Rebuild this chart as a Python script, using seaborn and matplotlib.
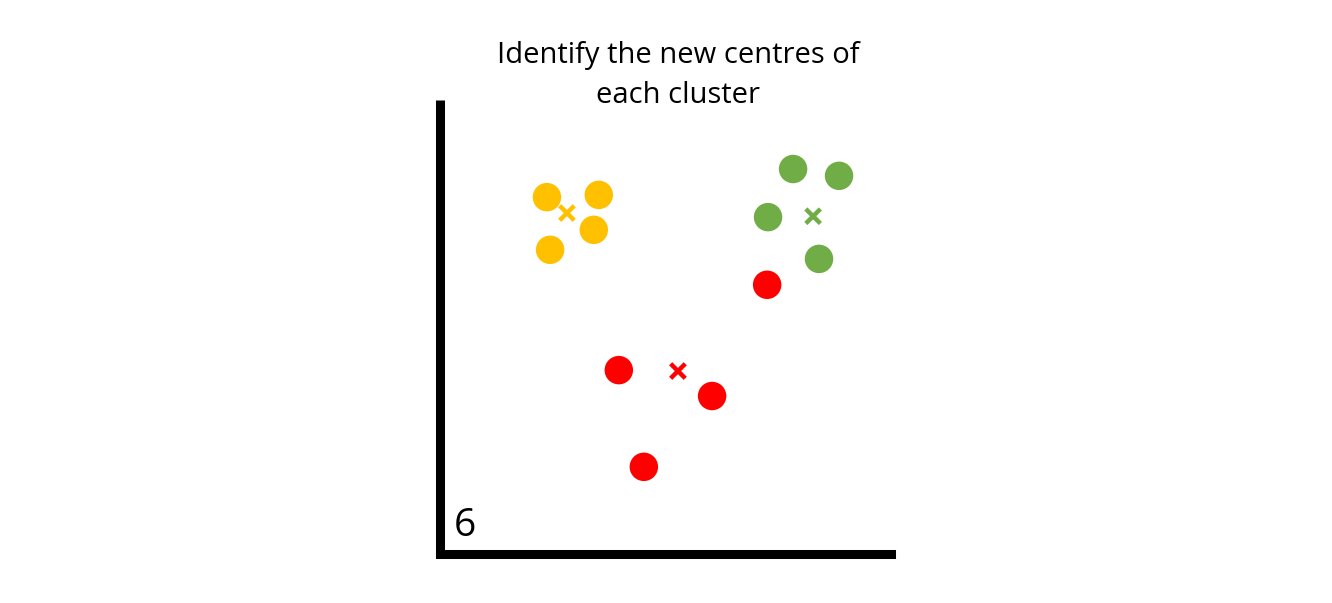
import pandas as pd
import matplotlib.pyplot as plt
import seaborn as sns

# cluster points (axis units 0-10)
yellow_x = [2.35, 3.49, 3.38, 2.42]
yellow_y = [7.86, 7.91, 7.14, 6.70]
green_x = [7.76, 8.77, 7.21, 8.33]
green_y = [8.48, 8.33, 7.42, 6.50]
red_x = [7.19, 3.93, 5.98, 4.48]
red_y = [5.93, 4.05, 3.48, 1.92]

# new centres
centre_x = [2.79, 8.20, 5.23]
centre_y = [7.51, 7.44, 4.03]
clusters = ['yellow', 'green', 'red']

palette = {'yellow': '#FFC000', 'green': '#70AD47', 'red': '#FF0000'}

points = pd.DataFrame({
    'x': yellow_x + green_x + red_x,
    'y': yellow_y + green_y + red_y,
    'cluster': ['yellow'] * 4 + ['green'] * 4 + ['red'] * 4,
})
centres = pd.DataFrame({'x': centre_x, 'y': centre_y, 'cluster': clusters})

sns.set_style('white')
plt.rcParams['font.family'] = ['Open Sans', 'DejaVu Sans']
plt.rcParams['text.color'] = 'black'

fig = plt.figure(figsize=(13.32, 6.03), dpi=100)
ax = fig.add_axes([440 / 1332, 49 / 603, 451 / 1332, 454 / 603])

sns.scatterplot(data=points, x='x', y='y', hue='cluster', palette=palette,
                s=420, linewidth=0, legend=False, ax=ax)
sns.scatterplot(data=centres, x='x', y='y', hue='cluster', palette=palette,
                marker='x', s=110, linewidth=3.2, legend=False, ax=ax)

ax.set_xlim(0, 10 * 451 / 455)
ax.set_ylim(0, 10)
ax.set_xticks([])
ax.set_yticks([])
ax.set_xlabel('')
ax.set_ylabel('')
for side in ['top', 'right']:
    ax.spines[side].set_visible(False)
for side in ['left', 'bottom']:
    ax.spines[side].set_color('black')
    ax.spines[side].set_linewidth(6.5)
ax.spines['left'].set_capstyle('butt')

ax.text(0.03, 0.04, '6', transform=ax.transAxes, fontsize=28, color='black')

fig.text(678 / 1332, 1 - 55 / 603, 'Identify the new centres of', ha='center', va='center',
         fontsize=21, color='black')
fig.text(678 / 1332, 1 - 96 / 603, 'each cluster', ha='center', va='center',
         fontsize=21, color='black')

plt.savefig('out.png', dpi=100)
